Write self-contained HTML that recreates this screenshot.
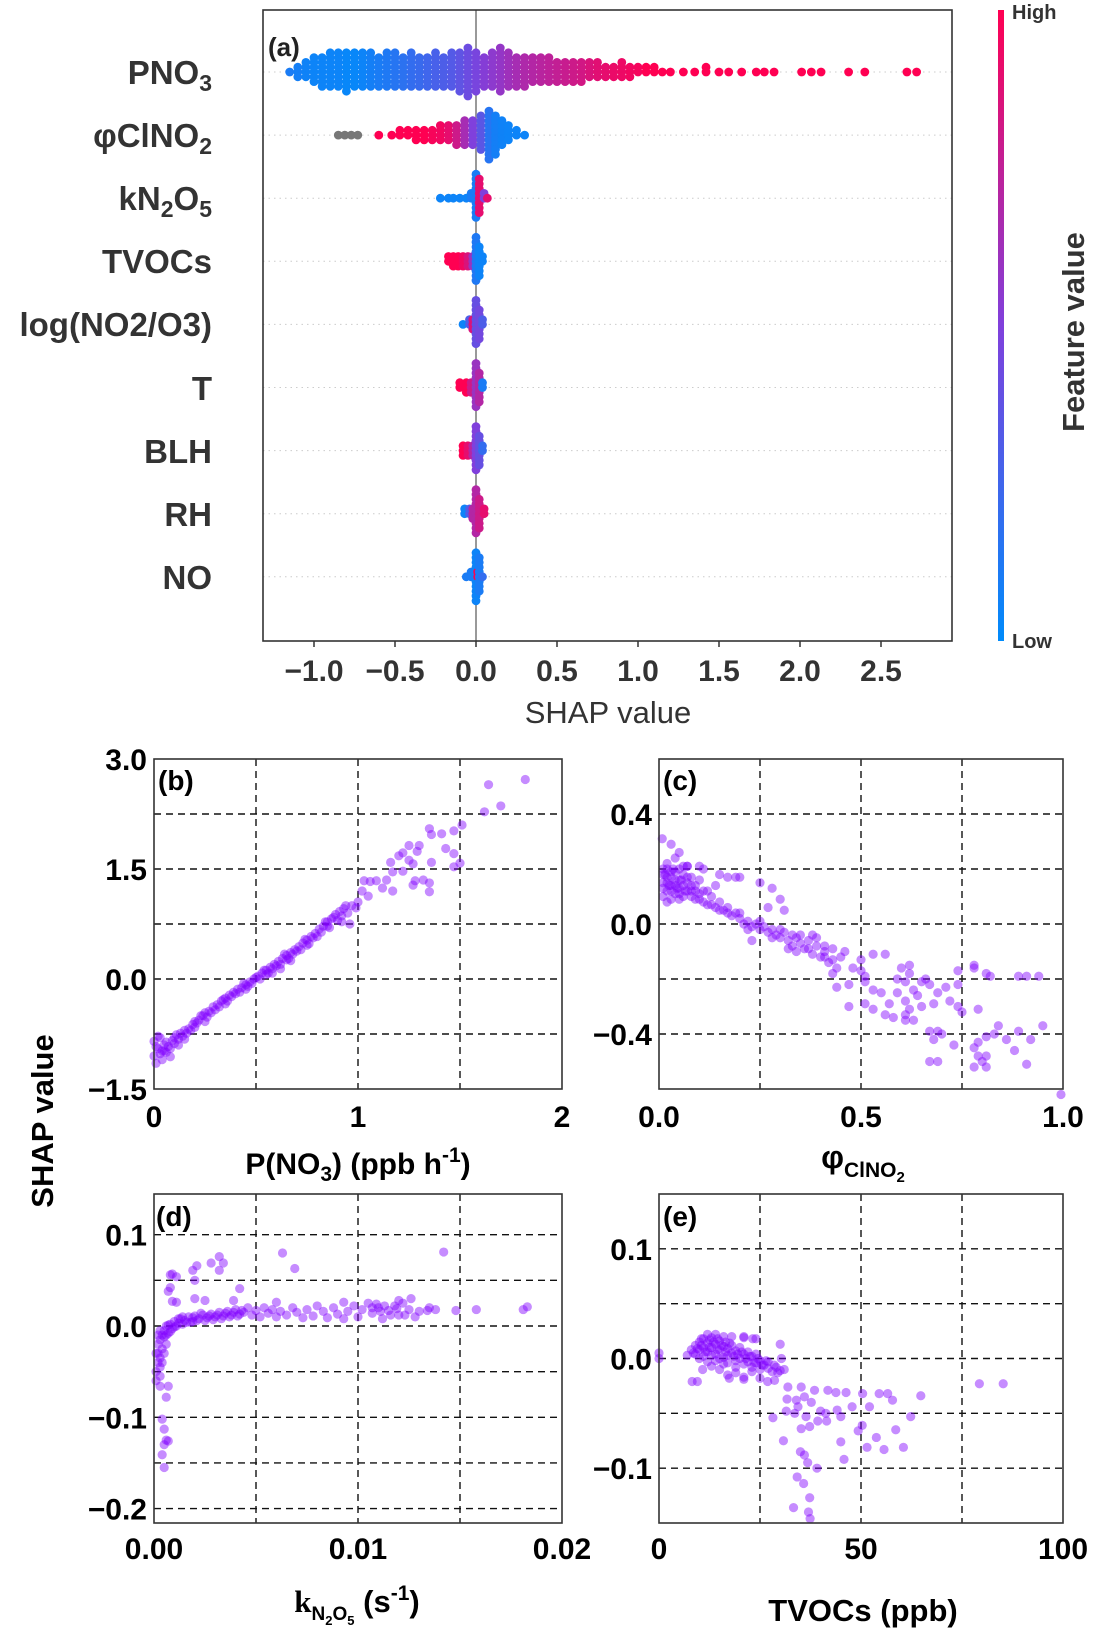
<!DOCTYPE html>
<html><head><meta charset="utf-8"><style>
html,body{margin:0;padding:0;background:#fff}
svg{display:block}
text{font-family:"Liberation Sans",Arial,sans-serif}
</style></head><body>
<svg id="chart" width="1095" height="1631" viewBox="0 0 1095 1631" xmlns="http://www.w3.org/2000/svg">
<defs>
<linearGradient id="cbar" x1="0" y1="1" x2="0" y2="0">
<stop offset="0" stop-color="rgb(0,139,251)"/><stop offset="0.5" stop-color="rgb(128,64,220)"/><stop offset="1" stop-color="rgb(255,0,82)"/>
</linearGradient>
</defs>
<g id="layerA"></g>
<g id="layerScatter"></g>
<g font-weight="bold" font-size="33" fill="#333" text-anchor="end">
<text x="212" y="84">PNO<tspan font-size="23" dy="7">3</tspan></text>
<text x="212" y="147">φClNO<tspan font-size="23" dy="7">2</tspan></text>
<text x="212" y="210">kN<tspan font-size="23" dy="7">2</tspan><tspan dy="-7">O</tspan><tspan font-size="23" dy="7">5</tspan></text>
<text x="212" y="273">TVOCs</text>
<text x="212" y="336">log(NO2/O3)</text>
<text x="212" y="400">T</text>
<text x="212" y="463">BLH</text>
<text x="212" y="526">RH</text>
<text x="212" y="589">NO</text>
</g>
<text x="608" y="723" font-size="31" fill="#333" text-anchor="middle">SHAP value</text>
<text x="268" y="56" font-size="26" font-weight="bold" fill="#222">(a)</text>
<rect x="998" y="10" width="6" height="631" fill="url(#cbar)"/>
<text x="1012" y="19" font-size="20" font-weight="bold" fill="#333">High</text>
<text x="1012" y="648" font-size="20" font-weight="bold" fill="#333">Low</text>
<text transform="translate(1084,332) rotate(-90)" font-size="31" font-weight="bold" fill="#333" text-anchor="middle">Feature value</text>
<g font-weight="bold" fill="#000">
<text x="158" y="790" font-size="28">(b)</text>
<text x="663" y="790" font-size="28">(c)</text>
<text x="156" y="1226" font-size="28">(d)</text>
<text x="663" y="1226" font-size="28">(e)</text>
<text x="358" y="1174" font-size="30" text-anchor="middle">P(NO<tspan font-size="21" dy="7">3</tspan><tspan dy="-7">) (ppb h</tspan><tspan font-size="21" dy="-12">-1</tspan><tspan dy="12">)</tspan></text>
<text x="863" y="1168" font-size="32" text-anchor="middle">φ<tspan font-size="21" dy="9">ClNO</tspan><tspan font-size="15" dy="5">2</tspan></text>
<text x="357" y="1612" font-size="31" text-anchor="middle"><tspan font-family="Liberation Serif, serif">k</tspan><tspan font-size="19" dy="8">N</tspan><tspan font-size="13" dy="5">2</tspan><tspan font-size="19" dy="-5">O</tspan><tspan font-size="13" dy="5">5</tspan><tspan dy="-13"> (s</tspan><tspan font-size="21" dy="-12">-1</tspan><tspan dy="12">)</tspan></text>
<text x="863" y="1621" font-size="31" text-anchor="middle">TVOCs (ppb)</text>
<text transform="translate(53,1121) rotate(-90)" font-size="31" text-anchor="middle">SHAP value</text>
</g>
</svg>
<script>
// ---------- Panel (a) data ----------
const rowNames = ['PNO3','phiClNO2','kN2O5','TVOCs','logNO2O3','T','BLH','RH','NO'];
const pno3Bins = [-1.15,-1.1,-1.05,-1,-0.95,-0.9,-0.85,-0.8,-0.75,-0.7,-0.65,-0.6,-0.55,-0.5,-0.45,-0.4,-0.35,-0.3,-0.25,-0.2,-0.15,-0.1,-0.05,0,0.05,0.1,0.15,0.2,0.25,0.3,0.35,0.4,0.45,0.5,0.55,0.6,0.65,0.7,0.75,0.8,0.85,0.9,0.95,1.0,1.05,1.1,1.15,1.2,1.28,1.35,1.42,1.5,1.56,1.64,1.73,1.78,1.84,2.01,2.07,2.13,2.30,2.40,2.66,2.72];
const pno3Counts = [1,3,4,6,7,8,8,9,8,8,8,7,8,8,7,8,7,7,8,7,8,9,11,9,7,8,10,8,7,7,6,6,6,5,5,5,5,4,4,3,3,4,3,2,2,2,1,1,1,1,2,1,1,1,1,1,1,1,1,1,1,1,1,1];
const pno3Feat = [0.1,0.08,0.06,0.05,0.05,0.05,0.05,0.03,0.03,0.05,0.08,0.1,0.12,0.15,0.17,0.2,0.22,0.25,0.28,0.3,0.33,0.37,0.42,0.47,0.52,0.55,0.58,0.62,0.65,0.68,0.7,0.72,0.74,0.76,0.78,0.8,0.82,0.85,0.88,0.9,0.92,0.93,0.95,0.96,1,1,1,1,1,1,1,1,1,1,1,1,1,1,1,1,1,1,1,1];
const phiBins = [-0.85,-0.81,-0.77,-0.73,-0.6,-0.52,-0.47,-0.42,-0.37,-0.32,-0.27,-0.22,-0.17,-0.12,-0.07,-0.02,0.03,0.08,0.12,0.16,0.2,0.25,0.3];
const phiCounts = [1,1,1,1,1,1,2,2,3,3,3,4,4,5,6,6,8,11,9,6,4,2,1];
const phiFeat = [-1,-1,-1,-1,1,1,1,1,1,1,0.97,0.95,0.9,0.8,0.65,0.5,0.35,0.15,0.08,0.06,0.05,0.05,0.05];
const kBins = [-0.22,-0.17,-0.14,-0.1,-0.06,-0.03,0.0,0.02,0.05,0.07];
const kCounts = [1,1,1,1,1,2,10,8,2,1];
const kFeat = [0.05,0.05,0.05,0.05,0.05,0.1,0.1,0.9,0.5,0.9];
const tvocBins = [-0.17,-0.14,-0.11,-0.08,-0.05,-0.02,0.0,0.02,0.04];
const tvocCounts = [2,3,3,3,3,3,10,7,2];
const tvocFeat = [1,1,1,0.95,0.85,0.6,0.12,0.05,0.05];
const logBins = [-0.08,-0.04,-0.02,0.0,0.02,0.04];
const logCounts = [1,2,3,10,7,2];
const logFeat = [0.05,0.3,0.85,0.4,0.45,0.3];
const tBins = [-0.1,-0.06,-0.03,0.0,0.02,0.04];
const tCounts = [2,3,3,10,7,2];
const tFeat = [1,1,0.8,0.6,0.7,0.1];
const blhBins = [-0.08,-0.05,-0.02,0.0,0.02,0.04];
const blhCounts = [3,3,3,10,7,2];
const blhFeat = [1,0.9,0.7,0.5,0.4,0.2];
const rhBins = [-0.07,-0.04,-0.02,0.0,0.02,0.05];
const rhCounts = [2,2,3,10,7,2];
const rhFeat = [0.05,0.3,0.7,0.7,0.8,0.9];
const noBins = [-0.06,-0.03,0.0,0.01,0.02,0.04];
const noCounts = [1,2,11,2,8,1];
const noFeat = [0.1,0.1,0.05,1,0.1,0.2];
const summaryTicks = [-1,-0.5,0,0.5,1,1.5,2,2.5];
const summaryTickLabels = ['−1.0','−0.5','0.0','0.5','1.0','1.5','2.0','2.5'];

// ---------- Dependence plot data ----------
const bPoints = [[0.00,-1.05],[0.00,-0.85],[0.01,-1.15],[0.02,-0.95],[0.03,-0.8],[0.04,-1.1],[0.05,-0.9],[0.06,-1.0],[0.08,-0.95],[0.10,-0.88],[0.10,-0.8],[0.12,-0.82],[0.14,-0.78],[0.15,-0.7],[0.17,-0.68],[0.19,-0.62],[0.20,-0.58],[0.22,-0.56],[0.24,-0.5],[0.25,-0.46],[0.27,-0.44],[0.29,-0.38],[0.31,-0.35],[0.33,-0.3],[0.35,-0.26],[0.37,-0.22],[0.39,-0.18],[0.41,-0.14],[0.43,-0.12],[0.45,-0.08],[0.47,-0.04],[0.49,0.0],[0.51,0.04],[0.53,0.08],[0.55,0.12],[0.57,0.16],[0.59,0.2],[0.61,0.24],[0.63,0.28],[0.65,0.32],[0.67,0.36],[0.69,0.4],[0.71,0.44],[0.73,0.49],[0.75,0.53],[0.77,0.58],[0.79,0.62],[0.81,0.68],[0.83,0.72],[0.85,0.78],[0.87,0.82],[0.89,0.88],[0.91,0.92],[0.93,0.96],[0.95,0.9],[0.16,-0.74],[0.26,-0.52],[0.36,-0.3],[0.46,-0.1],[0.56,0.08],[0.66,0.28],[0.76,0.48],[0.86,0.7],[0.30,-0.42],[0.40,-0.2],[0.50,0.02],[0.60,0.18],[0.70,0.38],[0.80,0.58],[0.90,0.8],[0.20,-0.66],[0.06,-0.86],[0.08,-1.06],[0.02,-0.78],[0.04,-0.98],[0.12,-0.9],[0.18,-0.7],[0.28,-0.46],[0.38,-0.24],[0.48,-0.06],[0.58,0.14],[0.68,0.34],[0.78,0.56],[0.88,0.84],
[0.11,-0.76],[0.13,-0.74],[0.21,-0.6],[0.23,-0.5],[0.32,-0.38],[0.34,-0.28],[0.42,-0.18],[0.44,-0.06],[0.52,0.0],[0.54,0.12],[0.62,0.2],[0.64,0.34],[0.72,0.4],[0.74,0.54],[0.82,0.64],[0.84,0.78],[0.92,0.86],[0.94,1.0],[0.15,-0.82],[0.25,-0.58],[0.35,-0.34],[0.45,-0.14],[0.55,0.06],[0.65,0.26],[0.75,0.46],[0.85,0.72],[0.07,-0.92],[0.09,-0.84],[0.01,-0.92],[0.03,-1.02],[0.05,-0.98],
[1.64,2.65],[1.82,2.72],[1.62,2.28],[1.70,2.36],[1.51,2.10],[1.47,2.02],[1.35,2.05],[1.36,1.97],[1.41,1.98],[1.43,1.78],[1.47,1.71],[1.47,1.53],[1.50,1.58],[1.29,1.74],[1.30,1.82],[1.25,1.82],[1.22,1.72],[1.25,1.62],[1.27,1.57],[1.22,1.47],[1.16,1.59],[1.17,1.46],[1.17,1.20],[1.14,1.35],[1.09,1.34],[1.06,1.33],[1.12,1.24],[1.05,1.13],[1.02,1.20],[1.03,1.34],[1.28,1.34],[1.27,1.28],[1.32,1.35],[1.35,1.31],[1.35,1.19],[1.36,1.59],[1.20,1.68],[0.99,0.97],[0.96,0.75],[0.92,0.78],[0.67,0.25],[0.58,0.08],[0.62,0.14],[0.97,1.0],[1.0,1.05]];
const cPoints = [[0.01,0.2],[0.01,0.15],[0.01,0.1],[0.02,0.22],[0.02,0.17],[0.02,0.12],[0.03,0.19],[0.03,0.14],[0.03,0.09],[0.04,0.24],[0.04,0.16],[0.04,0.11],[0.05,0.2],[0.05,0.13],[0.06,0.18],[0.06,0.1],[0.07,0.15],[0.07,0.21],[0.08,0.12],[0.08,0.17],[0.09,0.09],[0.09,0.14],[0.10,0.11],[0.10,0.16],[0.11,0.08],[0.12,0.12],[0.12,0.07],[0.13,0.1],[0.14,0.06],[0.15,0.08],[0.16,0.05],[0.17,0.06],[0.18,0.03],[0.19,0.04],[0.20,0.02],[0.21,0.0],[0.22,0.01],[0.23,-0.01],[0.24,0.0],[0.25,-0.02],[0.26,-0.01],[0.27,-0.03],[0.28,-0.02],[0.29,-0.04],[0.30,-0.05],[0.31,-0.03],[0.32,-0.06],[0.33,-0.08],[0.34,-0.05],[0.35,-0.07],[0.36,-0.09],[0.37,-0.06],[0.38,-0.11],[0.39,-0.08],[0.40,-0.12],[0.41,-0.1],[0.42,-0.14],[0.43,-0.13],[0.44,-0.16],[0.45,-0.12],[0.015,0.18],[0.025,0.14],[0.035,0.2],[0.045,0.13],[0.055,0.16],[0.065,0.12],[0.02,0.08],[0.05,0.09],
[0.01,0.13],[0.01,0.18],[0.02,0.15],[0.02,0.2],[0.03,0.12],[0.03,0.17],[0.04,0.14],[0.04,0.19],[0.05,0.11],[0.05,0.16],[0.06,0.14],[0.06,0.21],[0.07,0.12],[0.07,0.17],[0.08,0.1],[0.08,0.14],[0.09,0.12],[0.1,0.09],[0.11,0.12],[0.13,0.07],[0.15,0.05],[0.17,0.04],[0.2,0.04],[0.22,-0.02],[0.25,0.01],[0.28,-0.05],[0.3,-0.02],[0.33,-0.04],[0.35,-0.04],[0.37,-0.09],[0.39,-0.05],[0.41,-0.12],
[0.008,0.31],[0.03,0.29],[0.05,0.26],[0.07,0.21],[0.1,0.21],[0.11,0.2],[0.14,0.14],[0.15,0.18],[0.17,0.17],[0.19,0.17],[0.2,0.17],[0.25,0.15],[0.28,0.13],[0.3,0.09],[0.27,0.06],[0.31,0.05],[0.23,-0.06],[0.32,-0.09],[0.34,-0.1],[0.38,-0.04],[0.41,-0.08],[0.43,-0.09],[0.46,-0.1],[0.43,-0.18],[0.44,-0.23],[0.47,-0.22],[0.48,-0.16],[0.5,-0.13],[0.5,-0.17],[0.51,-0.19],[0.53,-0.11],[0.56,-0.11],[0.51,-0.21],[0.53,-0.24],[0.55,-0.25],[0.57,-0.29],[0.56,-0.33],[0.58,-0.34],[0.47,-0.3],[0.51,-0.29],[0.53,-0.31],[0.59,-0.25],[0.59,-0.2],[0.6,-0.16],[0.62,-0.15],[0.62,-0.18],[0.61,-0.21],[0.63,-0.24],[0.64,-0.26],[0.61,-0.28],[0.62,-0.31],[0.61,-0.33],[0.61,-0.35],[0.63,-0.35],[0.65,-0.21],[0.66,-0.2],[0.65,-0.3],[0.67,-0.22],[0.68,-0.29],[0.69,-0.25],[0.71,-0.23],[0.72,-0.28],[0.74,-0.3],[0.74,-0.17],[0.74,-0.22],[0.75,-0.32],[0.78,-0.15],[0.78,-0.16],[0.79,-0.31],[0.67,-0.39],[0.69,-0.39],[0.70,-0.4],[0.68,-0.42],[0.73,-0.44],[0.67,-0.5],[0.69,-0.5],[0.78,-0.45],[0.79,-0.48],[0.81,-0.48],[0.80,-0.5],[0.78,-0.52],[0.81,-0.52],[0.79,-0.43],[0.81,-0.41],[0.83,-0.4],[0.84,-0.37],[0.86,-0.42],[0.81,-0.18],[0.82,-0.19],[0.89,-0.19],[0.91,-0.19],[0.94,-0.19],[0.89,-0.39],[0.88,-0.46],[0.91,-0.51],[0.92,-0.42],[0.95,-0.37],[0.995,-0.62]];
const dPoints = [[0.0001,-0.06],[0.0001,-0.05],[0.0002,-0.04],[0.0002,-0.03],[0.0002,-0.02],[0.0003,-0.035],[0.0003,-0.015],[0.0004,-0.01],[0.0004,-0.025],[0.0005,-0.005],[0.0006,-0.02],[0.0006,0.0],[0.0007,-0.008],[0.0008,0.002],[0.0009,-0.003],[0.001,0.005],[0.0012,0.003],[0.0013,0.008],[0.0015,0.006],[0.0017,0.01],[0.0019,0.005],[0.002,0.011],[0.0022,0.008],[0.0024,0.012],[0.0026,0.009],[0.0028,0.013],[0.003,0.01],[0.0032,0.015],[0.0034,0.011],[0.0036,0.016],[0.0038,0.012],[0.004,0.018],[0.0042,0.013],[0.0044,0.015],[0.0046,0.02],[0.0048,0.012],[0.005,0.017],[0.0052,0.01],[0.0054,0.02],[0.0056,0.014],[0.0058,0.018],[0.006,0.01],[0.0062,0.016],[0.0065,0.012],[0.0068,0.02],[0.007,0.015],[0.0073,0.009],[0.0075,0.018],[0.0078,0.011],[0.008,0.022],[0.0083,0.016],[0.0085,0.009],[0.0088,0.02],[0.009,0.013],[0.0093,0.008],[0.0095,0.016],[0.0098,0.022],[0.01,0.01],[0.0102,0.018],[0.0105,0.025],[0.0107,0.014],[0.011,0.02],[0.0112,0.008],[0.0115,0.017],[0.0118,0.022],[0.012,0.012],[0.0122,0.025],[0.0125,0.018],[0.0128,0.01],[0.013,0.016],[0.0135,0.02],[0.0138,0.018],[0.0003,-0.045],[0.0001,-0.03],[0.0005,-0.012],[0.0007,0.001],[0.0011,0.0],[0.0014,0.002],[0.0018,0.004],[0.0003,-0.055],
[0.0002,-0.01],[0.0003,-0.005],[0.0004,-0.04],[0.0005,-0.03],[0.0006,-0.01],[0.0008,-0.006],[0.001,-0.001],[0.0012,0.008],[0.0014,0.01],[0.0016,0.004],[0.0019,0.009],[0.0021,0.006],[0.0023,0.014],[0.0025,0.006],[0.0027,0.011],[0.0029,0.007],[0.0031,0.012],[0.0033,0.008],[0.0035,0.014],[0.0037,0.01],[0.0039,0.015],[0.0041,0.011],[0.0043,0.017],[0.0107,0.02],[0.0109,0.024],[0.0111,0.016],[0.0113,0.022],[0.0116,0.012],[0.0119,0.019],
[0.0063,0.08],[0.0069,0.063],[0.0142,0.081],[0.0148,0.017],[0.0158,0.018],[0.0181,0.018],[0.0183,0.021],[0.0042,0.041],[0.0032,0.076],[0.0028,0.069],[0.0034,0.069],[0.0032,0.061],[0.0021,0.066],[0.0019,0.061],[0.002,0.05],[0.0008,0.056],[0.0009,0.057],[0.0011,0.054],[0.0008,0.042],[0.0007,0.038],[0.0009,0.027],[0.0011,0.026],[0.002,0.03],[0.0025,0.028],[0.0007,-0.066],[0.0006,-0.078],[0.0003,-0.066],[0.0004,-0.102],[0.0005,-0.113],[0.0006,-0.125],[0.0005,-0.13],[0.0004,-0.141],[0.0005,-0.155],[0.0007,-0.126],[0.0039,0.028],[0.006,0.026],[0.0093,0.026],[0.0126,0.03],[0.012,0.028],[0.0134,0.017],[0.0123,0.012]];
const ePoints = [[0,0.005],[0,0.0],[7,0.003],[8,0.008],[9,0.012],[9,0.004],[10,0.015],[10,0.008],[11,0.018],[11,0.01],[11,0.002],[12,0.014],[12,0.006],[13,0.019],[13,0.01],[14,0.013],[14,0.004],[15,0.016],[15,0.008],[16,0.011],[16,0.001],[17,0.009],[17,0.003],[18,0.012],[18,0.005],[19,-0.002],[19,0.007],[20,0.01],[20,0.0],[21,0.004],[21,-0.005],[22,0.006],[22,-0.003],[23,0.002],[23,-0.008],[24,0.004],[24,-0.004],[25,-0.002],[25,-0.01],[26,-0.006],[27,-0.009],[27,-0.003],[28,-0.012],[29,-0.008],[30,-0.011],[31,-0.01],[13,-0.007],[15,-0.01],[17,-0.015],[19,-0.013],[21,-0.017],[23,-0.012],[25,-0.018],[14,0.022],[16,0.02],[18,0.02],[21,0.02],[24,0.018],[30,0.013],[12,0.022],[10,0.0],[12,-0.003],[14,-0.002],[16,-0.005],
[8.5,0.005],[9.5,0.009],[10.5,0.012],[11.5,0.006],[12.5,0.01],[13.5,0.015],[14.5,0.008],[15.5,0.012],[16.5,0.006],[17.5,0.014],[18.5,0.002],[19.5,0.004],[20.5,0.006],[21.5,0.0],[22.5,0.002],[23.5,-0.004],[24.5,0.0],[25.5,-0.006],[26.5,-0.002],[28.5,-0.006],[10.5,0.018],[12.5,0.017],[14.5,0.018],[16.5,0.015],[13,0.003],[15,0.0],[17,-0.004],[19,-0.008],
[31.9,-0.026],[35.2,-0.026],[38.5,-0.029],[41.8,-0.029],[43.8,-0.031],[46.3,-0.031],[50.4,-0.032],[54.5,-0.032],[56.6,-0.032],[57.8,-0.038],[64.8,-0.034],[62.3,-0.053],[31.7,-0.037],[34,-0.038],[36,-0.035],[37.7,-0.04],[31.5,-0.048],[33.6,-0.05],[34.4,-0.044],[36.4,-0.053],[28.2,-0.054],[40,-0.048],[41.3,-0.05],[44.1,-0.047],[45,-0.053],[47.8,-0.044],[52.1,-0.044],[50.3,-0.061],[49.3,-0.066],[53.8,-0.072],[55.7,-0.083],[51.5,-0.081],[58.6,-0.065],[60.5,-0.081],[45,-0.076],[45.8,-0.092],[35.2,-0.064],[37.3,-0.062],[30.8,-0.075],[35,-0.085],[36,-0.088],[36.8,-0.095],[39.1,-0.1],[34.2,-0.108],[35.8,-0.114],[37.3,-0.127],[33.3,-0.136],[37,-0.14],[37.4,-0.146],[39.3,-0.057],[41.5,-0.057],[30.3,0.0],[79.3,-0.023],[85.2,-0.023],[8.2,-0.021],[9.5,-0.021],[10.8,-0.01],[23.2,0.018],[21,0.019],[29.4,-0.013],[26.9,-0.021],[28.6,-0.02],[21,-0.019],[17.4,-0.018]];

const bXTicks=[0,1,2], bXLabels=['0','1','2'], bYTicks=[3,1.5,0,-1.5], bYLabels=['3.0','1.5','0.0','−1.5'];
const bGridX=[0.5,1,1.5], bGridY=[2.25,1.5,0.75,0,-0.75];
const cXTicks=[0,0.5,1], cXLabels=['0.0','0.5','1.0'], cYTicks=[0.4,0,-0.4], cYLabels=['0.4','0.0','−0.4'];
const cGridX=[0.25,0.5,0.75], cGridY=[0.4,0.2,0,-0.2,-0.4];
const dXTicks=[0,0.01,0.02], dXLabels=['0.00','0.01','0.02'], dYTicks=[0.1,0,-0.1,-0.2], dYLabels=['0.1','0.0','−0.1','−0.2'];
const dGridX=[0.005,0.01,0.015], dGridY=[0.1,0.05,0,-0.05,-0.1,-0.15,-0.2];
const eXTicks=[0,50,100], eXLabels=['0','50','100'], eYTicks=[0.1,0,-0.1], eYLabels=['0.1','0.0','−0.1'];
const eGridX=[25,50,75], eGridY=[0.1,0.05,0,-0.05,-0.1];

const NS='http://www.w3.org/2000/svg';
function mk(tag, attrs, parent){const e=document.createElementNS(NS,tag);for(const k in attrs)e.setAttribute(k,attrs[k]);parent.appendChild(e);return e;}
function lerp(a,b,t){return Math.round(a+(b-a)*t);}
function cmap(v){
  if(v<0) return '#777777';
  const s0=[0,139,251], s1=[128,64,220], s2=[255,0,82];
  let a,b,t; if(v<0.5){a=s0;b=s1;t=v/0.5;} else {a=s1;b=s2;t=(v-0.5)/0.5;}
  return 'rgb('+lerp(a[0],b[0],t)+','+lerp(a[1],b[1],t)+','+lerp(a[2],b[2],t)+')';
}

const A=document.getElementById('layerA');
const aX0=263, aX1=952, aY0=10, aY1=641, zeroX=476, unit=162, row0=72, rowGap=63.1;
const xa=v=>zeroX+v*unit;
const ya=i=>row0+i*rowGap;
const rows=[[pno3Bins,pno3Counts,pno3Feat],[phiBins,phiCounts,phiFeat],[kBins,kCounts,kFeat],[tvocBins,tvocCounts,tvocFeat],[logBins,logCounts,logFeat],[tBins,tCounts,tFeat],[blhBins,blhCounts,blhFeat],[rhBins,rhCounts,rhFeat],[noBins,noCounts,noFeat]];
rows.forEach((r,i)=>{
  const ln=mk('line',{x1:aX0,x2:aX1,y1:ya(i),y2:ya(i),stroke:'#ccc','stroke-width':1,'stroke-dasharray':'1.5,4'},A);
  
  
});
const zl=mk('line',{x1:xa(0),x2:xa(0),y1:aY0,y2:aY1,stroke:'#999','stroke-width':2},A);


const step=4.8;
rows.forEach((r,i)=>{
  const g=mk('g',{},A);
  
  
  const [bins,counts,feat]=r;
  bins.forEach((b,k)=>{
    for(let j=0;j<counts[k];j++){
      const off=(j%2?-1:1)*Math.ceil(j/2)*step;
      const c=mk('circle',{cx:xa(b),cy:ya(i)+off,r:4.4,fill:cmap(feat[k])},g);
      
      
    }
  });
});
const boxA=mk('rect',{x:aX0,y:aY0,width:aX1-aX0,height:aY1-aY0,fill:'none',stroke:'#333','stroke-width':1.6},A);


summaryTicks.forEach((t,k)=>{
  const tk=mk('line',{x1:xa(t),x2:xa(t),y1:aY1,y2:aY1+6,stroke:'#333','stroke-width':1.5},A);
  
  
  const tl=mk('text',{x:xa(t),y:681,'font-size':30,'font-weight':'bold',fill:'#333','text-anchor':'middle'},A);
  tl.textContent=summaryTickLabels[k];
  
  
});

const S=document.getElementById('layerScatter');
function panel(name,box,xr,yr,pts,gx,gy,xt,xl,yt,yl,xLabY){
  const g=mk('g',{},S);
  
  
  const sx=v=>box[0]+(v-xr[0])/(xr[1]-xr[0])*(box[2]-box[0]);
  const sy=v=>box[3]-(v-yr[0])/(yr[1]-yr[0])*(box[3]-box[1]);
  gx.forEach(v=>{const l=mk('line',{x1:sx(v),x2:sx(v),y1:box[1],y2:box[3],stroke:'#111','stroke-width':1.4,'stroke-dasharray':'7,5'},g);
    
    });
  gy.forEach(v=>{const l=mk('line',{x1:box[0],x2:box[2],y1:sy(v),y2:sy(v),stroke:'#111','stroke-width':1.4,'stroke-dasharray':'7,5'},g);
    
    });
  pts.forEach(p=>{const c=mk('circle',{cx:sx(p[0]),cy:sy(p[1]),r:4.6,fill:'#8000ff','fill-opacity':0.45},g);
    
    });
  const fr=mk('rect',{x:box[0],y:box[1],width:box[2]-box[0],height:box[3]-box[1],fill:'none',stroke:'#333','stroke-width':1.6},g);
  
  
  xt.forEach((v,k)=>{const t=mk('text',{x:sx(v),y:xLabY,'font-size':30,'font-weight':'bold','text-anchor':'middle',fill:'#000'},g);
    t.textContent=xl[k];
    
    });
  yt.forEach((v,k)=>{const t=mk('text',{x:box[0]-7,y:sy(v)+11,'font-size':30,'font-weight':'bold','text-anchor':'end',fill:'#000'},g);
    t.textContent=yl[k];
    
    });
}
panel('b',[154,759,562,1089],[0,2],[-1.5,3],bPoints,bGridX,bGridY,bXTicks,bXLabels,bYTicks,bYLabels,1127);
panel('c',[659,759,1063,1089],[0,1],[-0.6,0.6],cPoints,cGridX,cGridY,cXTicks,cXLabels,cYTicks,cYLabels,1127);
panel('d',[154,1194,562,1523],[0,0.02],[-0.2158,0.1446],dPoints,dGridX,dGridY,dXTicks,dXLabels,dYTicks,dYLabels,1559);
panel('e',[659,1194,1063,1523],[0,100],[-0.15,0.15],ePoints,eGridX,eGridY,eXTicks,eXLabels,eYTicks,eYLabels,1559);
</script>
</body></html>
